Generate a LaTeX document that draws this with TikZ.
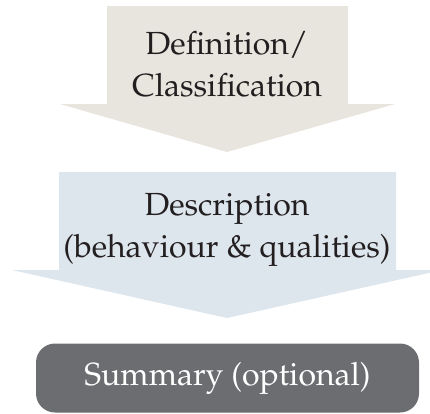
\documentclass[tikz,border=0pt]{standalone}
\usepackage[T1]{fontenc}
\usepackage{mathpazo}
\usetikzlibrary{positioning}

\definecolor{stepbeige}{RGB}{232,228,222}
\definecolor{stepblue}{RGB}{221,229,237}
\definecolor{stepgray}{RGB}{108,109,112}
\definecolor{steptext}{RGB}{35,31,32}

\begin{document}
\begin{tikzpicture}[
    x=1pt, y=-1pt,
    steptext/.style={align=center, text=steptext, font=\fontsize{32}{42}\selectfont},
    summarybox/.style={
        fill=stepgray, rounded corners=19pt,
        minimum width=383pt, minimum height=69pt,
        inner sep=0pt, text=white, font=\fontsize{32}{42}\selectfont
    }
]
\useasboundingbox (0,0) rectangle (430,413);

%%%%%%%%%%%%%%%%%%%%%
% Definition arrow
%%%%%%%%%%%%%%%%%%%%%
\fill[stepbeige] (107,6) -- (348,6) -- (348,104) -- (395,104)
    -- (227,152) -- (60,104) -- (107,104) -- cycle;
\node[steptext] (defn) at (227,64) {Definition/\\Classification};

%%%%%%%%%%%%%%%%%%%%%
% Description arrow
%%%%%%%%%%%%%%%%%%%%%
\fill[stepblue] (59,172) -- (396,172) -- (396,270) -- (442,270)
    -- (227,318) -- (12,270) -- (59,270) -- cycle;
\node[steptext] (descr) at (227,230) {Description\\(behaviour \& qualities)};

%%%%%%%%%%%%%%%%%%%%%
% Summary box
%%%%%%%%%%%%%%%%%%%%%
\node[summarybox] (summary) at (227.5,378) {Summary (optional)};

\end{tikzpicture}
\end{document}
